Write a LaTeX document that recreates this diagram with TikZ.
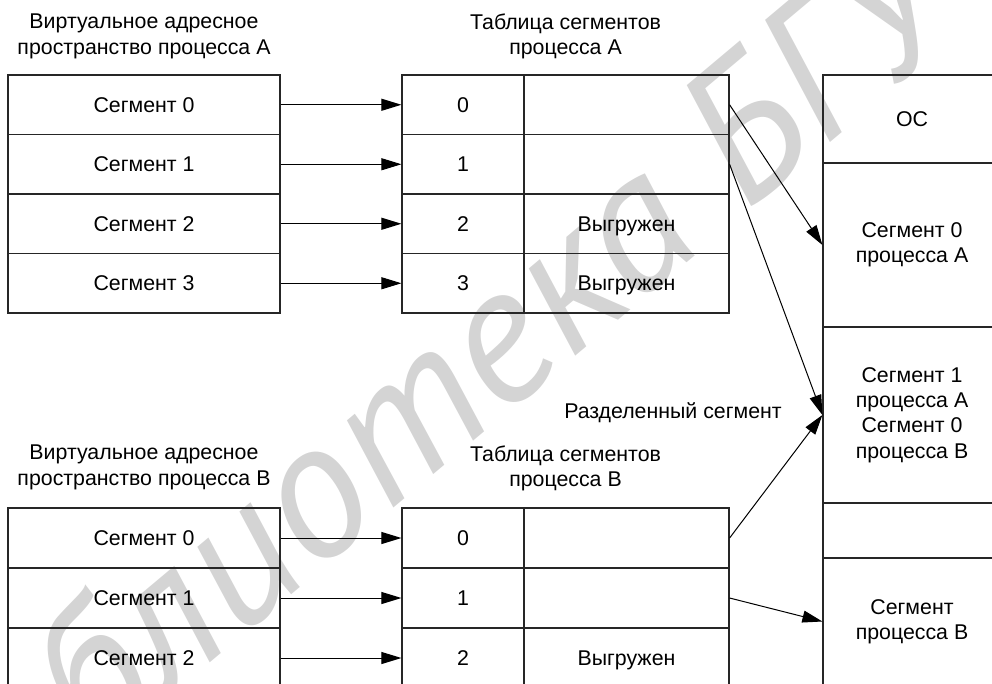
\documentclass[tikz,border=0pt]{standalone}
\usepackage{fontspec}
\setmainfont{Liberation Sans}
\newfontfamily\wmfont{PT Sans}
\usetikzlibrary{arrows.meta}

\begin{document}
\begin{tikzpicture}[x=0.75pt,y=-0.75pt,
  font=\fontsize{16}{19}\selectfont,
  cell/.style={draw=black!85, line width=0.9pt, inner sep=0pt, align=center},
  one/.style={text height=11.4pt, text depth=0pt},
  vcell/.style={cell, one, minimum width=204pt, minimum height=44.625pt},
  vcellb/.style={cell, one, minimum width=204pt, minimum height=45pt},
  numcell/.style={cell, one, minimum width=91.5pt, minimum height=44.625pt},
  stcell/.style={cell, one, minimum width=153.75pt, minimum height=44.625pt},
  numcellb/.style={cell, one, minimum width=91.5pt, minimum height=45pt},
  stcellb/.style={cell, one, minimum width=153.75pt, minimum height=45pt},
  memcell/.style={cell, minimum width=133.5pt},
  lbl/.style={align=center, inner sep=0pt},
  arr/.style={-{Triangle[length=15pt,width=9pt]}, line width=0.75pt},
]
\useasboundingbox (0,0) rectangle (992,683);
\clip (0,0) rectangle (992,683);

% background watermark
\node[text=black!17, rotate=40, inner sep=0pt,
      font=\wmfont\itshape\fontsize{145}{145}\selectfont] (wm) at (410,405) {Библиотека БГУ};

% headings
\node[lbl] (hVA) at (144,36.5) {Виртуальное адресное\\пространство процесса А};
\node[lbl] (hTA) at (565.5,36.5) {Таблица сегментов\\процесса А};
\node[lbl] (hVB) at (144,467.5) {Виртуальное адресное\\пространство процесса В};
\node[lbl] (hTB) at (565.5,468.5) {Таблица сегментов\\процесса В};
\node[lbl] (hShared) at (673,413) {Разделенный сегмент};

% virtual address space of process A
\node[vcell] (a0) at (144,104.75) {Сегмент 0};
\node[vcell] (a1) at (144,164.25) {Сегмент 1};
\node[vcell] (a2) at (144,223.75) {Сегмент 2};
\node[vcell] (a3) at (144,283.25) {Сегмент 3};

% segment table of process A
\node[numcell] (ta0) at (463,104.75) {0};
\node[numcell] (ta1) at (463,164.25) {1};
\node[numcell] (ta2) at (463,223.75) {2};
\node[numcell] (ta3) at (463,283.25) {3};
\node[stcell] (sa0) at (626.5,104.75) {};
\node[stcell] (sa1) at (626.5,164.25) {};
\node[stcell] (sa2) at (626.5,223.75) {Выгружен};
\node[stcell] (sa3) at (626.5,283.25) {Выгружен};

% virtual address space of process B
\node[vcellb] (b0) at (144,538) {Сегмент 0};
\node[vcellb] (b1) at (144,598) {Сегмент 1};
\node[vcellb] (b2) at (144,658) {Сегмент 2};

% segment table of process B
\node[numcellb] (tb0) at (463,538) {0};
\node[numcellb] (tb1) at (463,598) {1};
\node[numcellb] (tb2) at (463,658) {2};
\node[stcellb] (sb0) at (626.5,538) {};
\node[stcellb] (sb1) at (626.5,598) {};
\node[stcellb] (sb2) at (626.5,658) {Выгружен};

% physical memory
\node[memcell, minimum height=66pt, one] (m0) at (912,119) {ОС};
\node[memcell, minimum height=123pt] (m1) at (912,245) {Сегмент 0\\процесса А};
\node[memcell, minimum height=132pt] (m2) at (912,415) {Сегмент 1\\процесса А\\Сегмент 0\\процесса В};
\node[memcell, minimum height=41.25pt] (m3) at (912,530.5) {};
\node[memcell, minimum height=95.25pt] (m4) at (912,621.5) {Сегмент\\процесса В};

% virtual segments -> table entries
\foreach \i in {0,...,3} \draw[arr] (a\i.east) -- (ta\i.west);
\foreach \i in {0,...,2} \draw[arr] (b\i.east) -- (tb\i.west);

% table entries -> physical memory
\draw[arr] (sa0.east) -- (m1.west);
\draw[arr] (sa1.east) -- (m2.west);
\draw[arr] (sb0.east) -- (m2.west);
\draw[arr] (sb1.east) -- (m4.west);
\end{tikzpicture}
\end{document}
